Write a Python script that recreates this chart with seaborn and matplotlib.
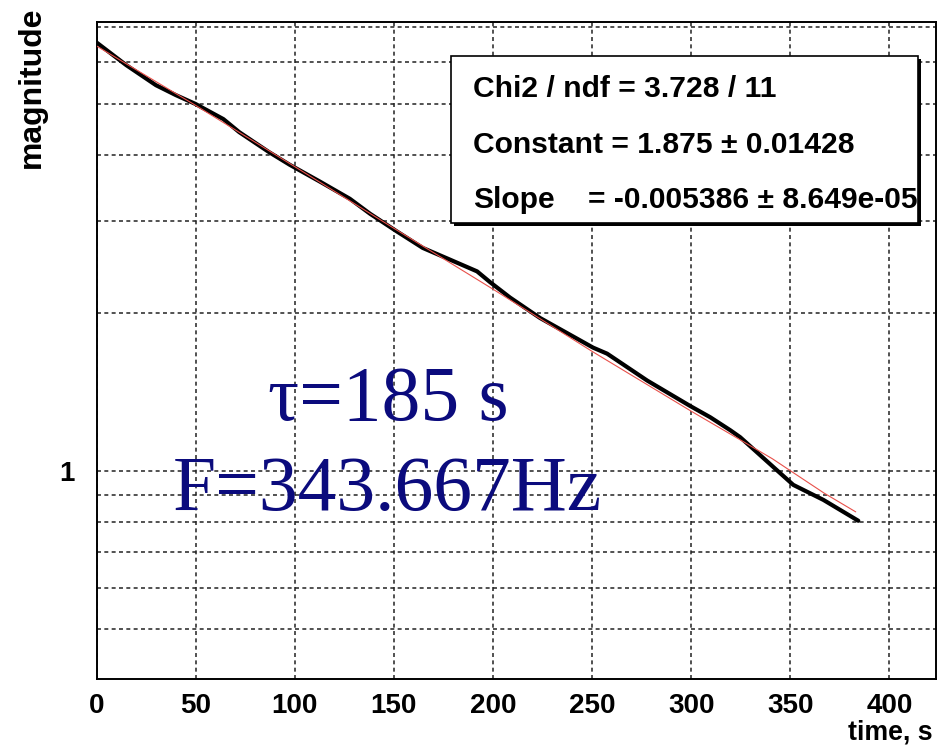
import matplotlib
matplotlib.use("Agg")
import matplotlib.pyplot as plt
from matplotlib.patches import Rectangle
from matplotlib.ticker import FixedLocator, MultipleLocator, NullFormatter, FixedFormatter
import seaborn as sns
import pandas as pd

# ---- data ----
time_s = [0, 15, 30, 40, 50, 64, 72, 87, 97.5, 112.6, 127.8, 138, 151.5, 164.6, 178,
          192, 198.5, 208.6, 223.7, 250.5, 257.6, 277.8, 299.5, 309.6, 319.7, 324.7,
          341.4, 351.5, 366.7, 384.3]
magnitude = [6.55, 5.93, 5.43, 5.20, 5.00, 4.68, 4.42, 4.05, 3.83, 3.56, 3.30, 3.09, 2.86,
             2.66, 2.53, 2.40, 2.29, 2.14, 1.957, 1.718, 1.673, 1.487, 1.33, 1.266, 1.196,
             1.160, 1.018, 0.941, 0.881, 0.804]
fit_time = [0, 50, 100, 150, 200, 250, 300, 325, 341, 352, 367, 383]
fit_mag = [6.45, 4.97, 3.80, 2.90, 2.22, 1.69, 1.30, 1.145, 1.055, 0.99, 0.908, 0.836]

stats_lines = ["Chi2 / ndf = 3.728 / 11", "Constant = 1.875 \u00b1 0.01428"]
slope_name = "Slope"
slope_value = "= -0.005386 \u00b1 8.649e-05"
tau_text = "\u03c4=185 s"
freq_text = "F=343.667Hz"
x_major = [0, 50, 100, 150, 200, 250, 300, 350, 400]
y_major = [1]
y_minor = [0.5, 0.6, 0.7, 0.8, 0.9, 2, 3, 4, 5, 6, 7]

sns.set_style("white")
plt.rcParams['font.family'] = ['Liberation Sans', 'DejaVu Sans']
plt.rcParams['text.color'] = 'black'
plt.rcParams['xtick.labelcolor'] = 'black'
plt.rcParams['ytick.labelcolor'] = 'black'

W, H = 946, 747
fig = plt.figure(figsize=(W / 100, H / 100), dpi=100)
L, R, T, B = 96.5, 936, 21.5, 679
ax = fig.add_axes([L / W, 1 - B / H, (R - L) / W, (B - T) / H])

df = pd.DataFrame({"t": time_s, "m": magnitude})
dff = pd.DataFrame({"t": fit_time, "m": fit_mag})
sns.lineplot(data=df, x="t", y="m", ax=ax, color="black", lw=3.0, sort=False,
             estimator=None, zorder=3)
sns.lineplot(data=dff, x="t", y="m", ax=ax, color="#e8504a", lw=0.8, sort=False,
             estimator=None, zorder=4)

ax.set_yscale("log")
ax.set_xlim(0, 423.5)
ax.set_ylim(0.4017, 7.18)
ax.set_xlabel("")
ax.set_ylabel("")

ax.xaxis.set_major_locator(FixedLocator(x_major))
ax.xaxis.set_minor_locator(MultipleLocator(10))
ax.yaxis.set_major_locator(FixedLocator(y_major))
ax.yaxis.set_major_formatter(FixedFormatter(["1"]))
ax.yaxis.set_minor_locator(FixedLocator(y_minor))
ax.yaxis.set_minor_formatter(NullFormatter())

ax.tick_params(axis="x", which="major", direction="in", length=14.4, width=1.1,
               color="#333333", pad=10, labelsize=20, labelcolor="black")
ax.tick_params(axis="x", which="minor", direction="in", length=7.2, width=1.1,
               color="#333333")
ax.tick_params(axis="y", which="major", direction="in", length=21.6, width=1.1,
               color="#333333", pad=16, labelsize=20, labelcolor="black")
ax.tick_params(axis="y", which="minor", direction="in", length=9.4, width=1.1,
               color="#333333")
for lab in ax.get_xticklabels() + ax.get_yticklabels():
    lab.set_fontweight("bold")

ax.grid(True, axis="x", which="major", color="#222222", lw=1.1, dashes=(2.6, 2.2))
ax.grid(True, axis="y", which="both", color="#222222", lw=1.1, dashes=(2.6, 2.2))
ax.set_axisbelow(True)
for sp in ax.spines.values():
    sp.set_visible(True)
    sp.set_color("black")
    sp.set_linewidth(1.4)

# stats box
bx0, by0, bx1, by1 = 451, 56, 918, 223
shadow = Rectangle(((bx0 + 3) / W, 1 - (by1 + 3) / H), (bx1 - bx0) / W, (by1 - by0) / H,
                   transform=fig.transFigure, facecolor="black", edgecolor="black",
                   lw=0, zorder=5, clip_on=False)
box = Rectangle((bx0 / W, 1 - by1 / H), (bx1 - bx0) / W, (by1 - by0) / H,
                transform=fig.transFigure, facecolor="white", edgecolor="black",
                lw=1.2, zorder=6, clip_on=False)
ax.add_artist(shadow)
ax.add_artist(box)
sfont = dict(fontsize=21.6, fontweight="bold", color="black", zorder=7)
fig.text(473 / W, 1 - 97 / H, stats_lines[0], ha="left", va="baseline", **sfont)
fig.text(473 / W, 1 - 153 / H, stats_lines[1], ha="left", va="baseline", **sfont)
fig.text(473 / W, 1 - 208 / H, slope_name, ha="left", va="baseline", **sfont)
fig.text(588 / W, 1 - 208 / H, slope_value, ha="left", va="baseline", **sfont)

# annotations
navy = "#0b0b7d"
fig.text(388 / W, 1 - 420 / H, tau_text, ha="center", va="baseline", color=navy,
         fontsize=55.8, family=["Liberation Serif", "DejaVu Serif"])
fig.text(387 / W, 1 - 510 / H, freq_text, ha="center", va="baseline", color=navy,
         fontsize=55.8, family=["Liberation Serif", "DejaVu Serif"])

# axis titles
fig.text(32 / W, 1 - 6 / H, "magnitude", rotation=90, ha="center", va="top",
         fontsize=23, fontweight="bold", color="black")
fig.text(933 / W, 1 - 740 / H, "time, s", ha="right", va="baseline",
         fontsize=19.3, fontweight="bold", color="black")

fig.savefig("out.png", dpi=100)
